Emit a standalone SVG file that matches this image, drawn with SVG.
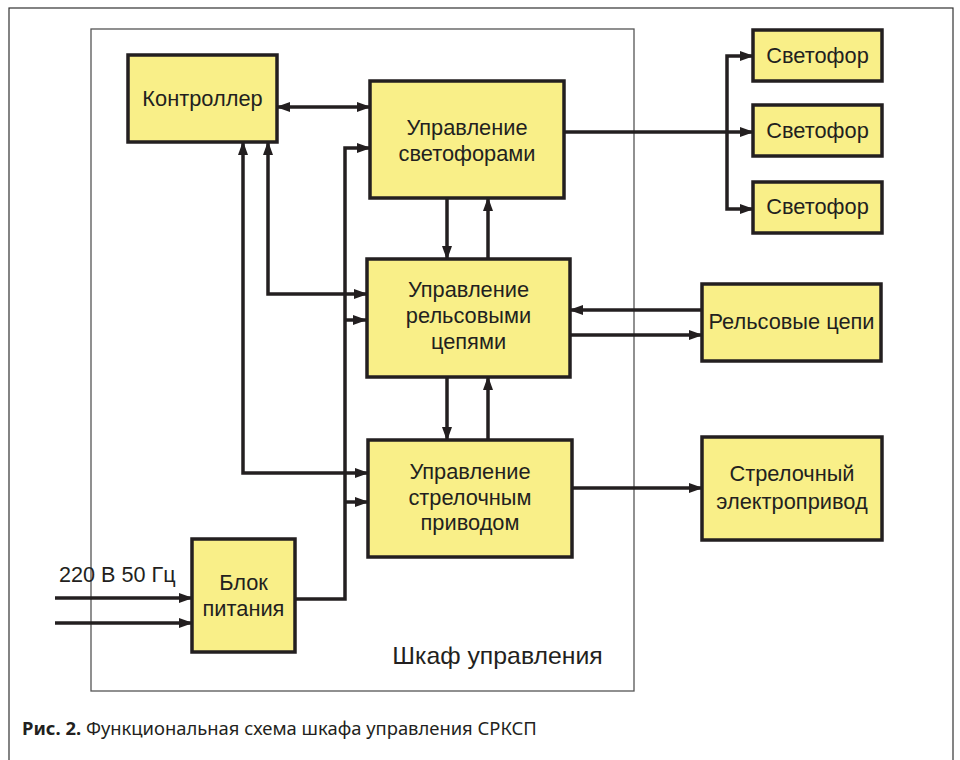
<svg xmlns="http://www.w3.org/2000/svg" width="960" height="760" viewBox="0 0 960 760">
<defs>
<style>
.box{fill:#f9ef88;stroke:#231f20;stroke-width:3.5}
.t{font-family:"Liberation Sans",Arial,sans-serif;font-size:21.8px;fill:#231f20;text-anchor:middle}
.c{fill:none;stroke:#231f20;stroke-width:3.5}
.a{marker-end:url(#ah)}
.b{marker-start:url(#ah);marker-end:url(#ah)}
</style>
<marker id="ah" markerUnits="userSpaceOnUse" markerWidth="14" markerHeight="12" refX="13" refY="5" orient="auto-start-reverse" viewBox="0 0 14 10">
<path d="M0,0 L14,5 L0,10 z" fill="#231f20"/>
</marker>
</defs>
<rect x="0" y="0" width="960" height="760" fill="#fff"/>
<rect x="9" y="8" width="944" height="760" fill="none" stroke="#333" stroke-width="1.2"/>
<g id="cabinet">
<rect x="91" y="29" width="543" height="662" fill="none" stroke="#555" stroke-width="1.3"/>
<text x="497.5" y="664" class="t" style="font-size:24.8px">Шкаф управления</text>
</g>
<g id="connectors">
<path class="c b" d="M277,107 H370"/>
<path class="c b" d="M368,473 H243 V142"/>
<path class="c b" d="M367,294 H268 V142"/>
<path class="c a" d="M295,599 H345 V148 H370"/>
<path class="c a" d="M345,320 H366"/>
<path class="c a" d="M345,502 H368"/>
<path class="c a" d="M447,198 V259"/>
<path class="c a" d="M488,259 V198"/>
<path class="c a" d="M447,377 V440"/>
<path class="c a" d="M488,440 V377"/>
<path class="c a" d="M564,132 H753"/>
<path class="c b" d="M753,56 H727 V209 H753"/>
<path class="c a" d="M702,310 H570"/>
<path class="c a" d="M570,335 H702"/>
<path class="c a" d="M572,488 H702"/>
<path class="c a" d="M55,598 H192"/>
<path class="c a" d="M55,623 H192"/>
</g>
<g id="controller">
<rect class="box" x="128" y="55" width="149" height="87"/>
<text class="t" x="202.5" y="106">Контроллер</text>
</g>
<g id="signals-ctrl">
<rect class="box" x="370" y="81" width="194" height="117"/>
<text class="t" x="467" y="135">Управление</text>
<text class="t" x="467" y="161">светофорами</text>
</g>
<g id="track-ctrl">
<rect class="box" x="367" y="259" width="203" height="118"/>
<text class="t" x="468.5" y="297">Управление</text>
<text class="t" x="468.5" y="323">рельсовыми</text>
<text class="t" x="468.5" y="349">цепями</text>
</g>
<g id="switch-ctrl">
<rect class="box" x="368" y="440" width="204" height="117"/>
<text class="t" x="470" y="479">Управление</text>
<text class="t" x="470" y="505">стрелочным</text>
<text class="t" x="470" y="530">приводом</text>
</g>
<g id="power">
<rect class="box" x="192" y="539" width="103" height="113"/>
<text class="t" x="243.5" y="590">Блок</text>
<text class="t" x="243.5" y="616">питания</text>
</g>
<g id="signal1">
<rect class="box" x="753" y="30" width="129" height="51"/>
<text class="t" x="817.5" y="63">Светофор</text>
</g>
<g id="signal2">
<rect class="box" x="753" y="105" width="129" height="51"/>
<text class="t" x="817.5" y="138">Светофор</text>
</g>
<g id="signal3">
<rect class="box" x="753" y="182" width="129" height="51"/>
<text class="t" x="817.5" y="214">Светофор</text>
</g>
<g id="track">
<rect class="box" x="702" y="284" width="179" height="77"/>
<text class="t" x="791.5" y="329">Рельсовые цепи</text>
</g>
<g id="switch-drive">
<rect class="box" x="702" y="437" width="180" height="103"/>
<text class="t" x="792" y="481">Стрелочный</text>
<text class="t" x="792" y="509">электропривод</text>
</g>
<text x="59" y="582" class="t" style="text-anchor:start;font-size:21.6px">220 В 50 Гц</text>
<text x="22" y="735" style="font-family:'Noto Sans','Open Sans',sans-serif;font-size:18.4px;fill:#231f20"><tspan font-weight="bold">Рис. 2.</tspan> Функциональная схема шкафа управления СРКСП</text>
</svg>
